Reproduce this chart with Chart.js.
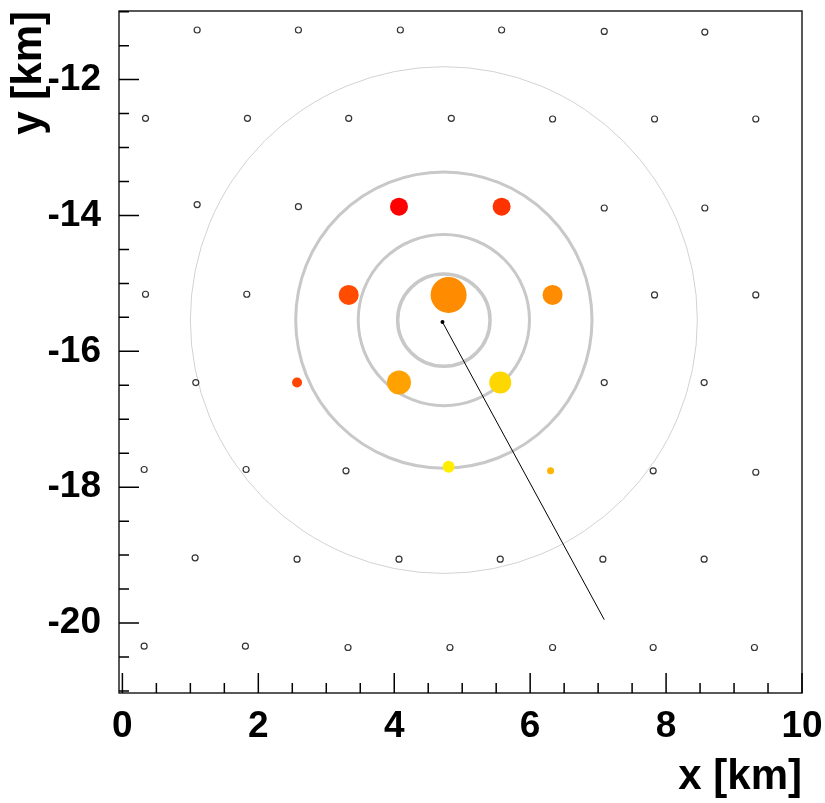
<!DOCTYPE html>
<html>
<head>
<meta charset="utf-8">
<script src="https://cdn.jsdelivr.net/npm/chart.js@4.4.1/dist/chart.umd.min.js"></script>
<style>
  html, body { margin: 0; padding: 0; background: #fff; }
  #wrap { width: 825px; height: 803px; position: relative; }
</style>
</head>
<body>
<div id="wrap"><canvas id="footprint"></canvas></div>
<script>
/*******************************************************************************
 * DATA (km)
 */

// empty stations of the array
const stationX = [
  1.10, 2.59, 4.09, 5.58, 7.09, 8.57,
  0.34, 1.84, 3.33, 4.84, 6.33, 7.83, 9.32,
  1.10, 2.59, 7.09, 8.57,
  0.34, 1.83, 7.83, 9.32,
  1.08, 7.09, 8.56,
  0.32, 1.82, 3.29, 7.81, 9.32,
  1.07, 2.57, 4.07, 5.56, 7.07, 8.56,
  0.32, 1.81, 3.32, 4.82, 6.33, 7.81, 9.30
];
const stationY = [
  -11.27, -11.27, -11.27, -11.27, -11.29, -11.30,
  -12.57, -12.57, -12.57, -12.57, -12.58, -12.58, -12.58,
  -13.84, -13.87, -13.89, -13.89,
  -15.16, -15.16, -15.17, -15.17,
  -16.46, -16.46, -16.46,
  -17.74, -17.74, -17.76, -17.76, -17.78,
  -19.04, -19.06, -19.06, -19.06, -19.06, -19.06,
  -20.34, -20.34, -20.36, -20.36, -20.36, -20.36, -20.36
];

// stations with signal
const hitX = [4.07, 5.58, 3.33, 4.80, 6.33, 2.57, 4.07, 5.56, 4.80, 6.30];
const hitY = [-13.87, -13.87, -15.17, -15.17, -15.17, -16.46, -16.46, -16.46, -17.70, -17.76];
const hitSignal = [9, 9, 10, 18, 10, 5, 12, 11, 6, 3.5];
const hitColor = ['#ff0000', '#ff3300', '#ff4c00', '#ff8c00', '#ff8c00',
                  '#ff4500', '#ffa200', '#ffd700', '#ffee00', '#ffb400'];

// shower core and axis projection
const coreX = 4.71, coreY = -15.57;
const axisEndX = 7.09, axisEndY = -19.95;

// distance rings around the core
const ringCenter = [4.73, -15.54];
const ringRadii = [0.68, 1.26, 2.18, 3.73];

const xTicks = [0, 2, 4, 6, 8, 10];
const yTicks = [-20, -18, -16, -14, -12];

/*******************************************************************************
 * PLUGINS
 */

const ringPlugin = {
  id: 'rings',
  beforeDatasetsDraw(chart) {
    const {ctx, chartArea, scales: {x, y}} = chart;
    const widths = [3.5, 3, 3, 1];
    const colors = ['#c8c8c8', '#c8c8c8', '#c8c8c8', '#d2d2d2'];
    const cx = x.getPixelForValue(ringCenter[0]);
    const cy = y.getPixelForValue(ringCenter[1]);
    ctx.save();
    ctx.beginPath();
    ctx.rect(chartArea.left, chartArea.top, chartArea.right - chartArea.left, chartArea.bottom - chartArea.top);
    ctx.clip();
    ringRadii.forEach((r, i) => {
      const rx = Math.abs(x.getPixelForValue(ringCenter[0] + r) - cx);
      const ry = Math.abs(y.getPixelForValue(ringCenter[1] + r) - cy);
      ctx.beginPath();
      ctx.lineWidth = widths[i];
      ctx.strokeStyle = colors[i];
      ctx.ellipse(cx, cy, rx, ry, 0, 0, Math.PI * 2);
      ctx.stroke();
    });
    ctx.restore();
  }
};

// ROOT style frame with ticks pointing inwards
const framePlugin = {
  id: 'frame',
  afterDraw(chart) {
    const {ctx, chartArea: a, scales: {x, y}} = chart;
    ctx.save();
    ctx.strokeStyle = '#222';
    ctx.lineWidth = 1.5;
    ctx.strokeRect(a.left, a.top, a.right - a.left, a.bottom - a.top);
    ctx.strokeStyle = '#000';
    ctx.beginPath();
    for (let v = 0; v <= 10.001; v += 0.5) {
      const px = x.getPixelForValue(v);
      const len = Math.abs(v % 2) < 0.01 ? 20 : 10;
      ctx.moveTo(px, a.bottom);
      ctx.lineTo(px, a.bottom - len);
    }
    for (let v = -21; v <= -11; v += 0.5) {
      const py = y.getPixelForValue(v);
      const len = Math.abs(v % 2) < 0.01 ? 20 : 10;
      ctx.moveTo(a.left, py);
      ctx.lineTo(a.left + len, py);
    }
    ctx.stroke();
    ctx.restore();
  }
};

/*******************************************************************************
 * CHART
 */

const toPoints = (xs, ys) => xs.map((v, i) => ({x: v, y: ys[i]}));

const tickFont = {family: 'Liberation Sans, Arial, sans-serif', size: 37, weight: 'bold'};
const titleFont = {family: 'Liberation Sans, Arial, sans-serif', size: 42, weight: 'bold'};

const noPad = (s) => {
  s.paddingTop = 0;
  s.paddingBottom = 0;
  s.paddingLeft = 0;
  s.paddingRight = 0;
};

new Chart(document.getElementById('footprint'), {
  type: 'scatter',
  data: {
    datasets: [
      {
        label: 'axis',
        data: [{x: coreX, y: coreY}, {x: axisEndX, y: axisEndY}],
        showLine: true,
        borderColor: '#000',
        borderWidth: 1,
        pointRadius: 0,
      },
      {
        label: 'stations',
        data: toPoints(stationX, stationY),
        pointRadius: 3,
        pointBorderWidth: 1.2,
        pointBorderColor: '#333',
        pointBackgroundColor: 'rgba(255,255,255,0)',
      },
      {
        label: 'hits',
        data: toPoints(hitX, hitY),
        pointRadius: hitSignal,
        pointBorderWidth: 0,
        pointBackgroundColor: hitColor,
        pointBorderColor: hitColor,
      },
      {
        label: 'core',
        data: [{x: coreX, y: coreY}],
        pointRadius: 2,
        pointBackgroundColor: '#000',
        pointBorderWidth: 0,
      },
    ],
  },
  options: {
    responsive: true,
    maintainAspectRatio: false,
    animation: false,
    events: [],
    layout: {autoPadding: false, padding: {top: 11, right: 23, left: 0, bottom: 0}},
    plugins: {
      legend: {display: false},
      tooltip: {enabled: false},
    },
    scales: {
      x: {
        type: 'linear',
        min: -0.05,
        max: 10,
        afterBuildTicks: (s) => { s.ticks = xTicks.map(v => ({value: v})); },
        afterFit: (s) => { s.height = 110; noPad(s); },
        grid: {display: false},
        border: {display: false},
        ticks: {color: '#000', font: tickFont, padding: 4, maxRotation: 0, autoSkip: false},
        title: {display: true, text: 'x [km]', align: 'end', color: '#000', font: titleFont, padding: {top: 0, bottom: 0}},
      },
      y: {
        type: 'linear',
        min: -21.03,
        max: -10.99,
        afterBuildTicks: (s) => { s.ticks = yTicks.map(v => ({value: v})); },
        afterFit: (s) => { s.width = 119; noPad(s); },
        grid: {display: false},
        border: {display: false},
        ticks: {color: '#000', font: tickFont, padding: 10, autoSkip: false},
        title: {display: true, text: 'y [km]', align: 'end', color: '#000', font: titleFont, padding: {top: 4, bottom: 0}},
      },
    },
  },
  plugins: [ringPlugin, framePlugin],
});
</script>
</body>
</html>
